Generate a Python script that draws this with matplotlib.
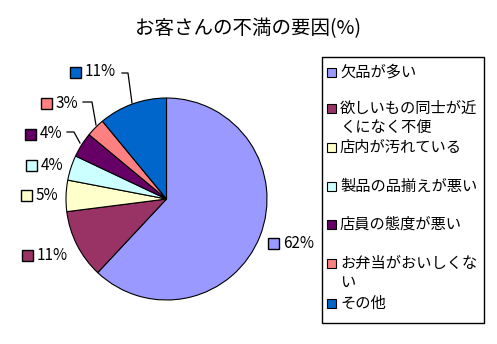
import matplotlib
matplotlib.use('Agg')
import matplotlib.pyplot as plt
import matplotlib.transforms as mtransforms
from matplotlib.patches import Rectangle

plt.rcParams['font.family'] = ['Noto Sans CJK JP', 'DejaVu Sans']

title = 'お客さんの不満の要因(%)'
categories = ['欠品が多い', '欲しいもの同士が近\nくになく不便', '店内が汚れている',
              '製品の品揃えが悪い', '店員の態度が悪い', 'お弁当がおいしくな\nい', 'その他']
values = [62, 11, 5, 4, 4, 3, 11]
colors = ['#9999FF', '#993366', '#FFFFCC', '#CCFFFF', '#660066', '#FF8080', '#0066CC']

W, H = 497, 344
fig = plt.figure(figsize=(W / 100, H / 100), dpi=100)
fig.patch.set_facecolor('white')

# transform in image pixels, origin top-left
px = mtransforms.Affine2D().scale(1 / W, -1 / H).translate(0, 1) + fig.transFigure

# plot area
left, right, top, bottom = 66, 267, 98, 300
ax = fig.add_axes([left / W, 1 - bottom / H, (right - left) / W, (bottom - top) / H])
ax.set_facecolor('#C0C0C0')
for s in ax.spines.values():
    s.set_edgecolor('#808080')
    s.set_linewidth(1.2)
ax.pie(values, colors=colors, startangle=90, counterclock=False, radius=1.0,
       wedgeprops=dict(edgecolor='black', linewidth=0.8))
ax.set_xlim(-1.0, 1.0)
ax.set_ylim(-1.0, 1.0)
ax.set_aspect('auto')
ax.set_xticks([])
ax.set_yticks([])

fig.text(248, 29, title, transform=px, ha='center', va='center', fontsize=14)

# data labels (square key + percent)
label_pos = [(268, 243), (22, 255), (21, 195), (26, 165), (25, 134), (41, 103), (70, 72)]
for (x, y), v, c in zip(label_pos, values, colors):
    fig.add_artist(Rectangle((x, y + 5.5), 11, -11, transform=px, facecolor=c,
                             edgecolor='black', linewidth=1.0))
    fig.text(x + 15, y, f'{v}%', transform=px, ha='left', va='center', fontsize=11)

# leader lines
leaders = [
    [(67, 132), (74, 132), (80, 143)],
    [(83, 102), (92, 102), (96, 125)],
    [(122, 73), (128, 73), (132, 103)],
]
for pts in leaders:
    xs, ys = zip(*pts)
    fig.add_artist(plt.Line2D(xs, ys, transform=px, color='black', linewidth=0.9))

# legend
fig.add_artist(Rectangle((322, 323), 162, -266, transform=px, facecolor='white',
                         edgecolor='black', linewidth=1.0))
legend_y = [72, 108, 147, 186, 224, 263, 303]
for y, lab, c in zip(legend_y, categories, colors):
    fig.add_artist(Rectangle((327, y + 4.5), 9, -9, transform=px, facecolor=c,
                             edgecolor='black', linewidth=0.8))
    for i, line in enumerate(lab.split('\n')):
        fig.text(340, y + i * 19, line, transform=px, ha='left', va='center', fontsize=11)

fig.savefig('out.png', dpi=100)
